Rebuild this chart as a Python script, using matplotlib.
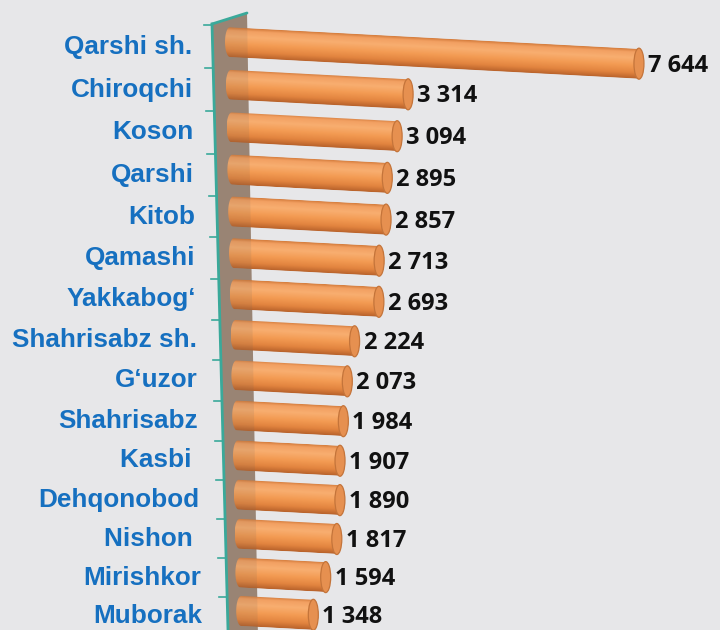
import numpy as np
import matplotlib
matplotlib.use("Agg")
import matplotlib.pyplot as plt
from matplotlib.patches import Polygon, Ellipse, PathPatch
from matplotlib.path import Path
from matplotlib.transforms import Affine2D
from matplotlib.colors import LinearSegmentedColormap

districts = ["Qarshi sh.", "Chiroqchi", "Koson", "Qarshi", "Kitob", "Qamashi",
             "Yakkabog‘", "Shahrisabz sh.", "G‘uzor", "Shahrisabz", "Kasbi ",
             "Dehqonobod", "Nishon ", "Mirishkor", "Muborak"]
values = [7644, 3314, 3094, 2895, 2857, 2713, 2693, 2224, 2073, 1984,
          1907, 1890, 1817, 1594, 1348]

BG = "#e7e7e9"
BLUE = "#1670c0"
TEAL = "#3aa99a"

K = 0.0535          # pixels per unit of value
XPX = 1.0 / K       # value units per pixel
SLANT = 0.053       # perspective drop of the bars

def slot(i):
    # rows get a little closer towards the bottom (perspective)
    return 47 + 43.07 * i - 0.1735 * i * i

def px(x):
    return (x - 230) * XPX

bar_cmap = LinearSegmentedColormap.from_list(
    "cyl", [(0.0, "#d47c3c"), (0.1, "#f2a062"), (0.3, "#f8ae70"),
            (0.55, "#f39b53"), (0.8, "#e2843f"), (1.0, "#b8622b")])
shade = np.linspace(0, 1, 64).reshape(-1, 1)

fig = plt.figure(figsize=(7.2, 6.3), dpi=100, facecolor=BG)
ax = fig.add_axes([0, 0, 1, 1])
ax.set_facecolor(BG)
ax.set_xlim(px(0), px(720))
ax.set_ylim(630, 0)
ax.axis("off")

# back wall
wall = [(px(212), 24), (px(247), 13), (px(258), 640), (px(228), 640)]
ax.add_patch(Polygon(wall, closed=True, facecolor="#a08978", edgecolor="none", zorder=1))

h = 30
rx = 5 * XPX
for i, (name, v) in enumerate(zip(districts, values)):
    x0 = 0.8 * i * XPX
    x1 = x0 + v
    yl = slot(i) - 5
    s = SLANT * K
    yr = yl + s * v

    # outline of the cylinder body with a rounded back end
    t = np.linspace(0, np.pi, 25)
    verts = [(x0, yl - h / 2), (x1, yr - h / 2), (x1, yr + h / 2), (x0, yl + h / 2)]
    verts += [(x0 - rx * np.sin(a), yl + h / 2 * np.cos(a)) for a in t]
    verts.append(verts[0])
    body = PathPatch(Path(verts, closed=True), facecolor="none", edgecolor="none",
                     transform=ax.transData)
    ax.add_patch(body)

    # vertical shading, sheared along the slant of the bar
    im = ax.imshow(shade, cmap=bar_cmap, aspect="auto", interpolation="bilinear",
                   extent=(0, v + rx, 1, 0), zorder=2)
    shear = Affine2D.from_values(1, s, 0, h, x0 - rx, yl - h / 2 - s * rx)
    im.set_transform(shear + ax.transData)
    im.set_clip_path(body)

    # end face of the cylinder
    ax.add_patch(Ellipse((x1, yr), 2 * rx, h + 1, facecolor="#e69050",
                         edgecolor="#c4743a", lw=0.9, zorder=3))

    ax.text(x1 + rx + 4 * XPX, yr + 2, f"{v:,}".replace(",", " "),
            ha="left", va="center", fontsize=17, fontweight="bold",
            family="Open Sans", color="#111111", zorder=6)

    ax.text(px(192 + 0.7 * i), slot(i), name, ha="right", va="center",
            fontsize=18.8, fontweight="bold", family="Liberation Sans",
            color=BLUE, zorder=6)

ax.set_xlim(px(0), px(720))
ax.set_ylim(630, 0)

# wall in front tints the bar ends slightly
ax.add_patch(Polygon(wall, closed=True, facecolor="#6d6459", alpha=0.12,
                     edgecolor="none", zorder=4))

def wall_left(y):
    return 212 + (228 - 212) * (y - 24) / 606.0

ax.plot([px(212), px(247)], [24, 13], color=TEAL, lw=2, zorder=5, solid_capstyle="round")
ax.plot([px(212), px(wall_left(640))], [24, 640], color=TEAL, lw=2, zorder=5)
for i in range(len(districts)):
    yt = slot(i - 0.5)
    xe = wall_left(yt)
    ax.plot([px(xe - 8), px(xe)], [yt, yt], color=TEAL, lw=1.2, zorder=5)

fig.savefig("out.png", dpi=100, facecolor=BG)
